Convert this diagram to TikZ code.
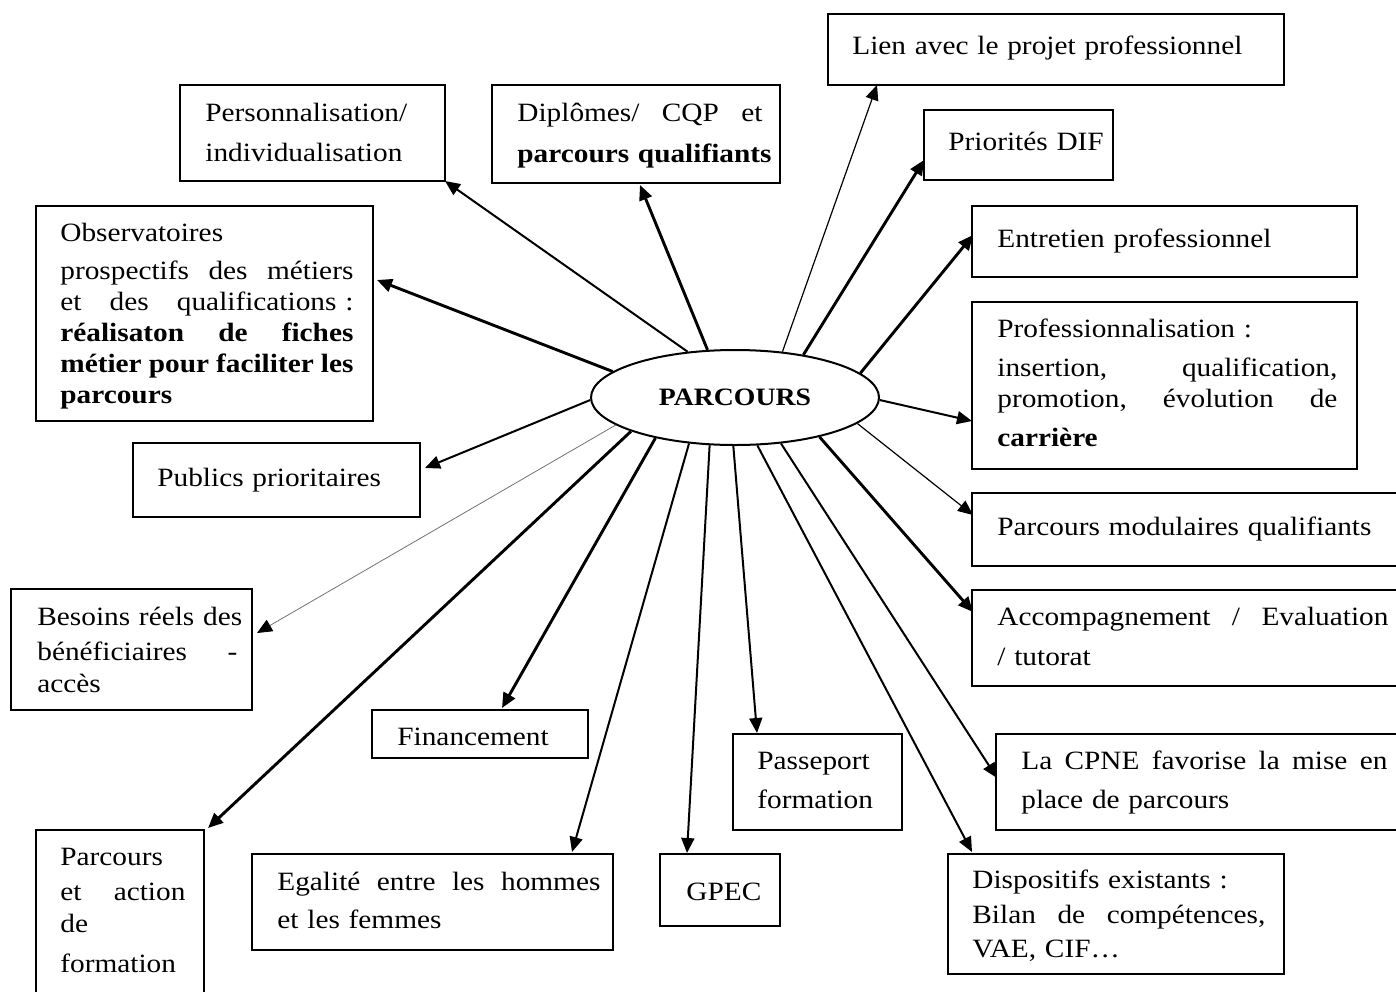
\documentclass[tikz,border=0pt]{standalone}
\usepackage{fontspec}
\setmainfont[FakeStretch=1.11]{Liberation Serif}
\usetikzlibrary{arrows.meta,shapes.geometric}
\newcommand{\jl}[2]{\leavevmode\hbox to #1{#2}}
\begin{document}
\begin{tikzpicture}[x=0.5pt,y=-0.5pt,
  box/.style={draw, line width=1pt, inner sep=0pt, outer sep=0pt, anchor=north west},
  txt/.style={anchor=base west, inner sep=0pt, align=left, text width=300pt, font=\fontsize{13.2pt}{15.5pt}\selectfont},
  arr/.style={line width=1pt, -{Triangle[length=7.5pt,width=6.5pt]}},
  arrthick/.style={arr, line width=1.45pt},
  arrthin/.style={arr, line width=0.6pt},
  arrhair/.style={line width=0.4pt, draw=black!55, -{Triangle[length=7.5pt,width=6.5pt,color=black]}},
]
\useasboundingbox (0,0) rectangle (1396,991);
\fill[white] (0,0) rectangle (1396,991);
\clip (0,0) rectangle (1396,991);

% boxes
\node[box, minimum width=228pt, minimum height=35.5pt] (lien) at (828,14) {};
\node[box, minimum width=132.5pt, minimum height=48pt] (pers) at (180,85) {};
\node[box, minimum width=144pt, minimum height=49pt] (dipl) at (492,85) {};
\node[box, minimum width=94.5pt, minimum height=35pt] (dif) at (924,110) {};
\node[box, minimum width=192.5pt, minimum height=35.5pt] (ent) at (972,206) {};
\node[box, minimum width=168.5pt, minimum height=107.5pt] (obs) at (36,206) {};
\node[box, minimum width=192.5pt, minimum height=83.5pt] (prof) at (972,302) {};
\node[box, minimum width=143.5pt, minimum height=37pt] (pub) at (133,443) {};
\node[box, minimum width=220pt, minimum height=36.5pt] (modul) at (972,493) {};
\node[box, minimum width=120.5pt, minimum height=60.5pt] (besoins) at (11,589) {};
\node[box, minimum width=220pt, minimum height=48pt] (accomp) at (972,590) {};
\node[box, minimum width=108pt, minimum height=24pt] (fin) at (372,710) {};
\node[box, minimum width=84.5pt, minimum height=48pt] (pass) at (733,734) {};
\node[box, minimum width=210pt, minimum height=48pt] (cpne) at (996,734) {};
\node[box, minimum width=84pt, minimum height=100pt] (pact) at (36,830) {};
\node[box, minimum width=180.5pt, minimum height=48pt] (egal) at (252,854) {};
\node[box, minimum width=60pt, minimum height=36pt] (gpec) at (660,854) {};
\node[box, minimum width=168pt, minimum height=60pt] (disp) at (948,854) {};

% ellipse
\node[ellipse, draw, line width=1pt, minimum width=144pt, minimum height=47.5pt, inner sep=0pt,
      font=\fontsize{12.5pt}{14pt}\selectfont\bfseries] (parc) at (735,397.5) {PARCOURS};

% texts
\node[txt] (lien-t) at ([shift={(24,40)}]lien.north west) {Lien avec le projet professionnel};
\node[txt] (pers-t) at ([shift={(25,36)}]pers.north west) {Personnalisation/\\[4.5pt]individualisation};
\node[txt] (dipl-t) at ([shift={(25,36)}]dipl.north west) {\jl{122.5pt}{Diplômes/\hfill CQP\hfill et}\\[5pt]\textbf{parcours qualifiants}};
\node[txt] (dif-t) at ([shift={(24,40)}]dif.north west) {Priorités DIF};
\node[txt] (ent-t) at ([shift={(25,41)}]ent.north west) {Entretien professionnel};
\node[txt] (obs-t) at ([shift={(24,35)}]obs.north west) {Observatoires\\[3.5pt]\jl{146.5pt}{prospectifs\hfill des\hfill métiers}\\\jl{146.5pt}{et\hfill des\hfill qualifications :}\\\jl{146.5pt}{\textbf{réalisaton\hfill de\hfill fiches}}\\\jl{146.5pt}{\textbf{métier\hfill pour\hfill faciliter\hfill les}}\\\textbf{parcours}};
\node[txt] (prof-t) at ([shift={(25,35)}]prof.north west) {Professionnalisation :\\[4pt]\jl{170pt}{insertion,\hfill qualification,}\\\jl{170pt}{promotion,\hfill évolution\hfill de}\\[4pt]\textbf{carrière}};
\node[txt] (pub-t) at ([shift={(24,43)}]pub.north west) {Publics prioritaires};
\node[txt] (modul-t) at ([shift={(25,42)}]modul.north west) {Parcours modulaires qualifiants};
\node[txt] (besoins-t) at ([shift={(26,36)}]besoins.north west) {Besoins réels des\\[2pt]\jl{100pt}{bénéficiaires\hfill -}\\[0.5pt]accès};
\node[txt] (accomp-t) at ([shift={(25,35)}]accomp.north west) {\jl{195.5pt}{Accompagnement\hfill /\hfill Evaluation}\\[4.5pt]/ tutorat};
\node[txt] (fin-t) at ([shift={(25,35)}]fin.north west) {Financement};
\node[txt] (pass-t) at ([shift={(24,35)}]pass.north west) {Passeport\\[4pt]formation};
\node[txt] (cpne-t) at ([shift={(25,35)}]cpne.north west) {\jl{183pt}{La\hfill CPNE\hfill favorise\hfill la\hfill mise\hfill en}\\[4pt]place de parcours};
\node[txt] (pact-t) at ([shift={(24,35)}]pact.north west) {Parcours\\[2pt]\jl{62.5pt}{et\hfill action}\\[0.5pt]de\\[4.5pt]formation};
\node[txt] (egal-t) at ([shift={(25,36)}]egal.north west) {\jl{161.5pt}{Egalité\hfill entre\hfill les\hfill hommes}\\[3.5pt]et les femmes};
\node[txt] (gpec-t) at ([shift={(26,46)}]gpec.north west) {GPEC};
\node[txt] (disp-t) at ([shift={(24,34)}]disp.north west) {Dispositifs existants :\\[2pt]\jl{146.5pt}{Bilan\hfill de\hfill compétences,}\\[1.5pt]VAE, CIF…};

% connectors
\draw[arr] (parc.136.5) -- (pers.south east);
\draw[arrthick] (parc.120.1) -- ([shift={(148,2)}]dipl.south west);
\draw[arrthin] (parc.44.1) -- ([shift={(49,0)}]lien.south west);
\draw[arrthick] (parc.32.7) -- ([shift={(0,50)}]dif.north west);
\draw[arrthick] (parc.11.8) -- ([shift={(1,29)}]ent.north west);
\draw[arr] (parc.-1) -- ([shift={(0,119)}]prof.north west);
\draw[arrthin] (parc.-12.7) -- ([shift={(1,22)}]modul.north west);
\draw[arrthick] (parc.-25.7) -- ([shift={(1,22)}]accomp.north west);
\draw[arr] (parc.-45.9) -- ([shift={(1,44)}]cpne.north west);
\draw[arr] (parc.-65.6) -- ([shift={(24,-2)}]disp.north west);
\draw[arr] (parc.-92.4) -- ([shift={(24,-1)}]pass.north west);
\draw[arr] (parc.-118.2) -- ([shift={(27,-1)}]gpec.north west);
\draw[arr] (parc.-135.3) -- ([shift={(320,-2)}]egal.north west);
\draw[arrthick] (parc.-153.7) -- ([shift={(130,-2)}]fin.north west);
\draw[arrthick] (parc.-162.1) -- ([shift={(4,-2)}]pact.north east);
\draw[arrhair] (parc.-167.4) -- ([shift={(5,44)}]besoins.north east);
\draw[arr] (parc.181) -- ([shift={(5,25)}]pub.north east);
\draw[arrthick] (parc.168.9) -- ([shift={(4,74)}]obs.north east);
\end{tikzpicture}
\end{document}
